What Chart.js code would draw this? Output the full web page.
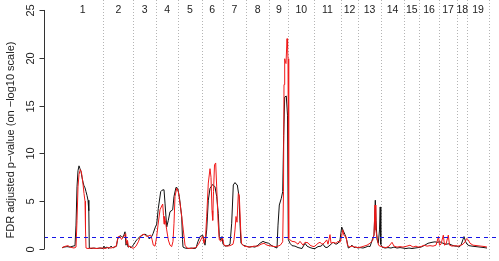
<!DOCTYPE html>
<html>
<head>
<meta charset="utf-8">
<script src="https://cdn.jsdelivr.net/npm/chart.js@4/dist/chart.umd.min.js"></script>
<style>
html,body{margin:0;padding:0;background:#fff;}
#wrap{width:499px;height:261px;}
</style>
</head>
<body>
<div id="wrap"><canvas id="c" width="499" height="261"></canvas></div>
<script>
// Chromosome names and cumulative end positions (position units along genome)
const chromosomes = ["1","2","3","4","5","6","7","8","9","10","11","12","13","14","15","16","17","18","19"];
const chromEnds = [41.3, 71.3, 94, 116.3, 139.7, 160.7, 184, 207.3, 226.3, 252.3, 278.7, 296.3, 318.7, 342.3, 357.3, 376.7, 395.3, 405.3, 426.7];
const yTicks = [0, 5, 10, 15, 20, 25];
const fdrThreshold = 1.3; // -log10(0.05)

// Black series
const blackPos = [0,2,5,8,11,13,14,15,16,17,18,19,20,21,22,23,24,25,26,26.8,27.3,29,32,35,38,41,
 42,43,45,47,49,51,53,54.5,55.7,57,58,59.7,61,62,63,64,65,66,68,69,71,
 72,73,74.7,76,78,81.3,83,84.7,86,87.3,88.5,89.7,91,93,
 94.7,96.3,98.7,100,102,103,104.7,106.3,108,110.7,112,114,115.7,117.3,119.7,120.5,121,
 123,126,129,132,134,136,138,140.7,
 142,143,144.7,146.3,148,150.7,153,154.7,156.3,157.3,158.7,160,161,
 163,166,168,169.7,171.3,173,174,175.3,177,178,179,181,184,
 187,190,193,196,198,201,203,206.7,
 209,211.7,215,216,217.3,219.3,220.7,221.7,222.7,224.3,225.5,226.3,
 228,230,233,236,238,240,243,245,248,251,
 253,256,259,261,263,265,268,271,274,276,278,
 279.7,281.3,283,284.7,286.3,288,290,292,294,296,
 298,301,304,306,308,310.7,312,313.3,314,315,316.3,317.5,318.2,318.8,
 320,323,326,329,332,335,338,341,
 344,347,350,353,356,
 359,362,366,370,373,375,
 378,381,384,387,390,393,395,
 397,399,401,402,403.5,405,
 407,410,414,418,422,425];
const blackVal = [0.15,0.2,0.25,0.2,0.3,0.35,2.5,6.5,8.2,8.7,8.4,8.1,7.5,7.0,6.6,6.4,6.0,5.6,5.1,4.0,0.1,0.05,0.1,0.05,0.1,0.05,
 0.3,0.1,0.2,0.05,0.3,0.1,0.25,0.3,1.1,1.2,1.4,1.3,1.2,1.5,1.8,0.4,0.8,0.2,0.3,0.1,0.4,
 0.5,0.7,0.95,1.1,1.3,1.5,1.55,1.45,1.3,1.05,1.2,1.3,1.6,2.2,
 2.6,4.25,6.0,6.15,6.2,4.8,2.3,3.0,3.9,4.1,5.5,6.45,6.35,5.5,3.4,1.0,0.2,
 0.1,0.05,0.1,0.05,0.1,0.8,1.3,1.45,
 0.9,0.4,2.0,5.1,6.35,6.75,6.5,5.5,3.7,1.3,0.95,1.3,0.5,
 0.3,0.35,0.5,2.7,6.7,6.95,6.8,6.7,5.5,2.7,0.6,0.4,0.3,
 0.2,0.25,0.2,0.4,0.6,0.8,0.7,0.6,
 0.4,0.25,0.1,2.5,4.6,5.3,6.0,11.9,15.9,16.0,14.0,1.0,
 0.6,0.35,0.3,0.15,0.1,0.05,0.6,0.3,0.15,0.05,
 0.05,0.25,0.3,0.5,0.2,0.15,0.4,0.7,0.5,0.6,0.95,
 2.3,1.9,1.5,0.95,0.1,0.2,0.4,0.15,0.2,0.1,
 0.15,0.1,0.2,0.3,0.25,1.1,1.45,5.1,3.0,1.0,0.6,2.0,4.4,0.5,
 0.2,0.1,0.15,0.1,0.2,0.1,0.15,0.1,
 0.05,0.1,0.05,0.1,0.15,
 0.2,0.35,0.6,0.7,0.75,0.7,
 0.75,0.6,0.5,0.55,0.4,0.3,0.3,
 0.2,0.4,1.0,1.3,0.8,0.5,
 0.35,0.3,0.25,0.2,0.15,0.1];

// Red series
const redPos = [0,2,4,6,8,10,12,14,15,16,17,18.3,19.3,20,21,22,23,23.5,24,26,30,34,38,41,
 43,46,49,52,54,56.3,58,59.5,61,63.7,64.5,65.5,66.5,68,70,
 72,74,76.3,78,79.7,82,83.5,85.3,87,88.7,90,91.3,93,
 94.7,96,98,99.7,100.7,101.5,102,102.5,103.3,104.7,106.3,108,109.7,111,112,113,114.7,116.3,118,119.7,121.3,123,
 125,128,131,134,136.5,138.7,140.7,
 142,143.5,144.7,146.3,148,149,150,150.7,151.5,152.5,153.7,154.7,156,157.3,159,160.5,
 162,165,168,171,172,173,174,175,176.3,177.3,178.7,179.5,182,
 185,188,192,196,199,202,205,207,
 210,213.3,216,218.3,220.7,221.5,222,222.7,223.5,224,225,225.6,226,226.7,
 228,230,233,236,238,241,243,246,248,250,252,
 254,256,258,260,262,264.7,266,268,269,271,274,276,278,
 279.5,280.7,282,284,285.5,287,290,293,296,
 299,302,305,308,310.7,312,313,313.8,315.3,316.5,318,
 321,324,327,330,332,335,338,341,
 343,345,348,351,354,356,
 359,362,365,368,371,374,
 376.5,377.5,379,381.3,382.5,384,386.3,387.5,390,393,
 396,399,401,403,404.7,406.3,
 408,411,415,419,423,425];
const redVal = [0.1,0.25,0.3,0.35,0.2,0.15,0.1,0.2,3.0,6.5,7.8,8.3,8.1,7.6,6.8,5.8,5.0,2.0,0.1,0.05,0.1,0.05,0.1,0.1,
 0.05,0.15,0.1,0.2,0.25,1.3,1.3,1.0,1.2,1.6,0.5,0.9,0.2,0.3,0.1,
 0.1,0.3,0.75,1.2,1.45,1.55,1.4,1.3,1.4,1.45,1.0,0.4,0.3,
 1.3,2.5,4.1,4.5,4.7,3.5,2.6,3.4,3.0,2.0,0.95,0.4,0.25,0.8,2.7,5.5,6.35,6.0,4.8,3.4,2.0,0.4,
 0.1,0.05,0.1,0.15,0.5,0.95,1.35,
 0.6,1.2,3.4,6.9,8.4,7.5,4.0,3.0,6.0,8.8,9.0,6.5,3.0,0.95,0.8,1.2,
 0.4,0.3,0.35,0.5,1.0,2.0,3.4,2.8,5.8,5.6,2.0,0.6,0.3,
 0.25,0.2,0.3,0.3,0.5,0.6,0.4,0.35,
 0.3,0.25,0.3,0.4,0.75,6.0,17.2,19.9,19.5,19.4,22.0,21.0,19.9,1.1,
 0.95,0.8,0.75,0.5,0.8,0.4,0.7,0.65,0.4,0.3,0.25,
 0.4,0.6,0.7,0.5,0.6,0.95,0.5,1.5,0.6,0.7,0.6,0.8,0.7,
 1.2,2.0,1.4,1.3,0.4,0.2,0.3,0.2,0.15,
 0.2,0.3,0.4,0.6,0.9,1.5,4.6,2.0,1.1,0.4,0.3,
 0.2,0.15,0.3,0.7,0.3,0.2,0.25,0.2,
 0.25,0.3,0.4,0.2,0.3,0.2,
 0.25,0.4,0.3,0.35,0.3,0.4,
 1.3,0.4,0.5,1.45,0.4,0.5,1.45,0.4,0.3,0.35,
 0.3,0.4,0.5,0.75,1.1,0.95,
 0.6,0.4,0.35,0.3,0.25,0.2];

const toXY = (p, v) => p.map((x, i) => ({x: x, y: v[i]}));
const chromStarts = [0].concat(chromEnds.slice(0, -1));
const chromMids = chromEnds.map((e, i) => (e + chromStarts[i]) / 2);

const FONT = '"Liberation Sans", Arial, Helvetica, sans-serif';

const decor = {
  id: 'decor',
  beforeDatasetsDraw(chart) {
    const {ctx, chartArea, scales: {x, y}} = chart;
    ctx.save();
    // chromosome boundaries
    ctx.strokeStyle = '#b4b4b4';
    ctx.lineWidth = 1;
    ctx.setLineDash([1, 2]);
    chromEnds.forEach(e => {
      const px = Math.round(x.getPixelForValue(e)) + 0.5;
      ctx.beginPath();
      ctx.moveTo(px, chartArea.top);
      ctx.lineTo(px, chartArea.bottom);
      ctx.stroke();
    });
    ctx.setLineDash([]);
    // chromosome labels
    ctx.fillStyle = '#222';
    ctx.font = '10.5px ' + FONT;
    ctx.textAlign = 'center';
    ctx.textBaseline = 'middle';
    const ly = y.getPixelForValue(25);
    chromosomes.forEach((c, i) => {
      ctx.fillText(c, x.getPixelForValue(chromMids[i]), ly);
    });
    ctx.restore();
  },
  afterDatasetsDraw(chart) {
    const {ctx, chartArea, scales: {x, y}} = chart;
    ctx.save();
    // threshold line
    ctx.strokeStyle = '#1515e6';
    ctx.lineWidth = 1;
    ctx.setLineDash([4, 4]);
    const ty = Math.round(y.getPixelForValue(fdrThreshold)) + 0.5;
    ctx.beginPath();
    ctx.moveTo(chartArea.left, ty);
    ctx.lineTo(chartArea.right, ty);
    ctx.stroke();
    ctx.setLineDash([]);
    // y axis
    const ax = chartArea.left + 0.5;
    ctx.strokeStyle = '#333';
    ctx.beginPath();
    ctx.moveTo(ax, y.getPixelForValue(yTicks[0]));
    ctx.lineTo(ax, y.getPixelForValue(yTicks[yTicks.length - 1]));
    ctx.stroke();
    ctx.fillStyle = '#222';
    ctx.font = '11px ' + FONT;
    ctx.textAlign = 'center';
    ctx.textBaseline = 'middle';
    yTicks.forEach(t => {
      const py = Math.round(y.getPixelForValue(t)) + 0.5;
      ctx.beginPath();
      ctx.moveTo(ax - 5, py);
      ctx.lineTo(ax, py);
      ctx.stroke();
      ctx.save();
      ctx.translate(30.5, py);
      ctx.rotate(-Math.PI / 2);
      ctx.fillText(String(t), 0, 0);
      ctx.restore();
    });
    // y title
    ctx.save();
    ctx.translate(10.5, 140);
    ctx.rotate(-Math.PI / 2);
    ctx.fillText('FDR adjusted p\u2212value (on \u2212log10 scale)', 0, 0);
    ctx.restore();
    ctx.restore();
  }
};

new Chart(document.getElementById('c'), {
  type: 'line',
  data: {
    datasets: [
      {label: 'red', data: toXY(redPos, redVal), borderColor: '#f01818', borderWidth: 1, pointRadius: 0, tension: 0, fill: false},
      {label: 'black', data: toXY(blackPos, blackVal), borderColor: '#111111', borderWidth: 1, pointRadius: 0, tension: 0, fill: false}
    ]
  },
  options: {
    responsive: false,
    animation: false,
    events: [],
    layout: {padding: {left: 44, right: 0, top: 0, bottom: 0}},
    plugins: {legend: {display: false}, tooltip: {enabled: false}},
    scales: {
      x: {type: 'linear', display: false, min: -18, max: 437},
      y: {type: 'linear', display: false, min: -1.255, max: 26.046}
    }
  },
  plugins: [decor]
});
</script>
</body>
</html>
